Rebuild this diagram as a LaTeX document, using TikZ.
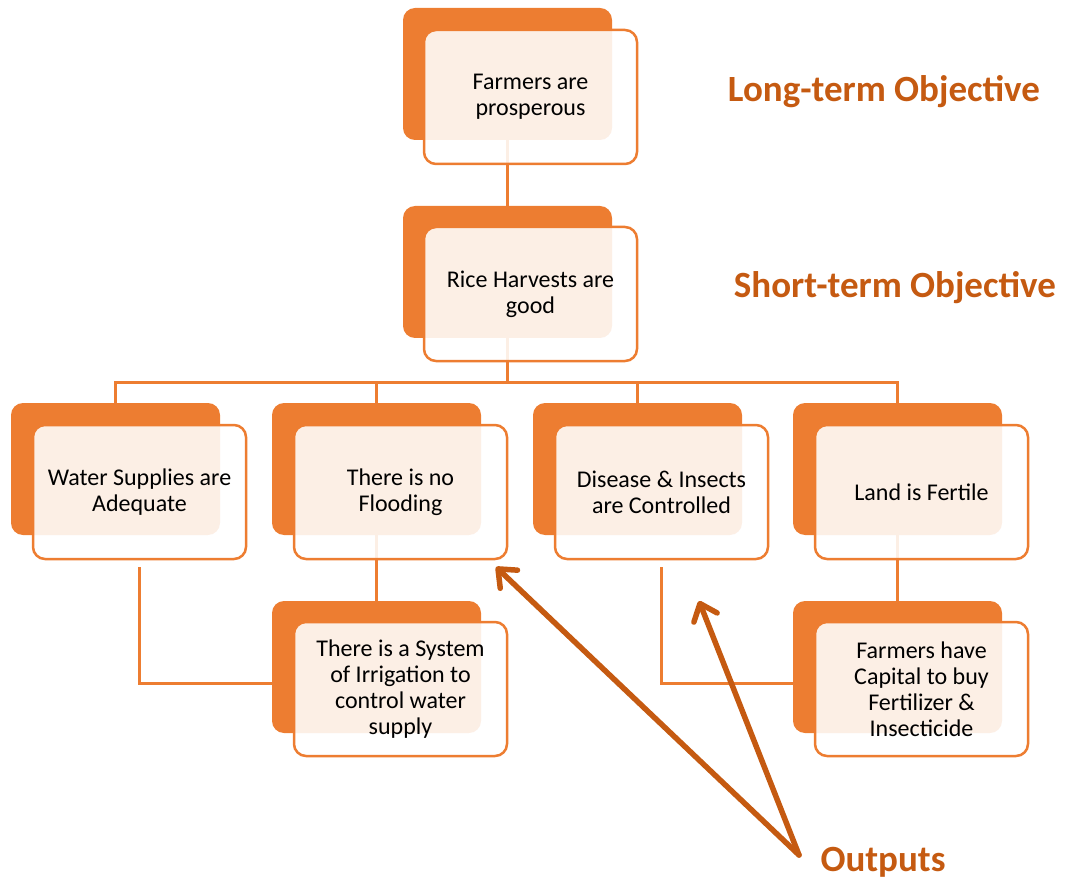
\documentclass[tikz,border=0pt]{standalone}
\usepackage{fontspec}
\setmainfont{Carlito}
\usetikzlibrary{arrows.meta,calc}
\definecolor{org}{HTML}{ED7D31}
\definecolor{dorg}{HTML}{C55A11}
\pgfdeclarelayer{backl}
\pgfdeclarelayer{connl}
\pgfsetlayers{backl,connl,main}
\begin{document}
\begin{tikzpicture}[x=1pt,y=-1pt,
  backbox/.style={fill=org, draw=none, rounded corners=12pt, minimum width=209pt, minimum height=132pt, anchor=north west, inner sep=0pt, outer sep=0pt},
  frontbox/.style={draw=org, line width=2.5pt, fill=white, fill opacity=0.88, text opacity=1, draw opacity=1, rounded corners=12pt, minimum width=213pt, minimum height=134pt, anchor=north west, inner sep=4pt, outer sep=0pt, align=center, font=\fontsize{24}{26}\selectfont, text=black},
  conn/.style={draw=org, line width=3pt},
  outarrow/.style={draw=dorg, line width=5.5pt, line cap=round, line join=round, -{Straight Barb[length=15pt, width=25pt, line cap=round, line join=round]}},
  title/.style={text=dorg, font=\bfseries\fontsize{37}{42}\selectfont, inner sep=0pt}]
\useasboundingbox (0,0) rectangle (1065,882);

% front boxes
\node[frontbox] (top)   at (424,30)  {Farmers are\\prosperous};
\node[frontbox] (rice)  at (424,227) {Rice Harvests are\\good};
\node[frontbox] (water) at (33,425)  {Water Supplies are\\Adequate};
\node[frontbox] (flood) at (294,425) {There is no\\Flooding};
\node[frontbox] (dis)   at (555,425) {Disease \& Insects\\are Controlled};
\node[frontbox] (land)  at (815,425) {Land is Fertile};
\node[frontbox] (irr)   at (294,622) {There is a System\\of Irrigation to\\control water\\supply};
\node[frontbox] (cap)   at (815,622) {Farmers have\\Capital to buy\\Fertilizer \&\\Insecticide};

% back boxes
\begin{pgfonlayer}{backl}
\node[backbox] (topB)   at (403,8)   {};
\node[backbox] (riceB)  at (403,206) {};
\node[backbox] (waterB) at (11,403)  {};
\node[backbox] (floodB) at (272,403) {};
\node[backbox] (disB)   at (533,403) {};
\node[backbox] (landB)  at (793,403) {};
\node[backbox] (irrB)   at (272,601) {};
\node[backbox] (capB)   at (793,601) {};
\end{pgfonlayer}

% connectors
\begin{pgfonlayer}{connl}
\coordinate (bus) at (507.5,382);
\draw[conn] (topB.south) -- (riceB.north);
\draw[conn] (riceB.south) -- (bus);
\draw[conn] (waterB.north) |- (bus);
\draw[conn] (floodB.north) |- (bus);
\draw[conn] (disB.north) |- (bus);
\draw[conn] (landB.north) |- (bus);
\draw[conn] (floodB.south) -- (irrB.north);
\draw[conn] (landB.south) -- (capB.north);
\draw[conn] ([yshift=-8pt]water.south) |- ([yshift=-16pt]irrB.west);
\draw[conn] ([yshift=-8pt]dis.south) |- ([yshift=-16pt]capB.west);
\end{pgfonlayer}

% titles
\node[title] (lt) at (884,92)  {Long-term Objective};
\node[title] (st) at (895,288) {Short-term Objective};
\node[title] (op) at (883,862) {Outputs};

% output arrows
\coordinate (base) at (799,855);
\coordinate (tip2) at (699,601);
\draw[outarrow] (base) -- ([xshift=-11pt,yshift=-8pt]flood.south east);
\draw[outarrow] (base) -- (tip2);
\end{tikzpicture}
\end{document}
